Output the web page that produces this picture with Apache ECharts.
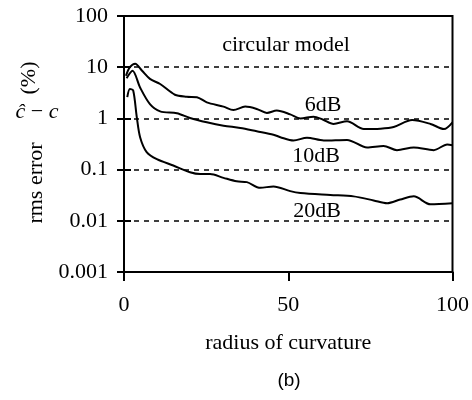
<!DOCTYPE html>
<html>
<head>
<meta charset="utf-8">
<script src="https://cdn.jsdelivr.net/npm/echarts@6/dist/echarts.min.js"></script>
<style>
  html, body { margin: 0; padding: 0; background: #fff; }
  #viewA { width: 472px; height: 400px; }
</style>
</head>
<body>
<div id="viewA"></div>
<script>
// values
const yLabels = ["0.001", "0.01", "0.1", "1", "10", "100"];
const xTicks = [0, 50, 100];

const r6 = [0.6, 1.8, 3.4, 5.5, 7.9, 11, 15.5, 19.1, 22.2, 25.2, 30.3, 33.3, 36.9, 40.4, 43.5, 46.5, 50.6, 53.7, 57.7, 60.5, 63.8, 67.9, 73, 78, 82.1, 87.7, 93.3, 97.4, 100];
const e6 = [6.8, 10, 11.7, 8.5, 5.9, 4.7, 2.9, 2.65, 2.6, 2.06, 1.7, 1.46, 1.7, 1.53, 1.28, 1.42, 1.2, 1.0, 1.08, 0.95, 0.78, 0.88, 0.62, 0.63, 0.68, 0.93, 0.78, 0.62, 0.84];

const r10 = [0.8, 2.6, 4.9, 7.9, 11, 16.1, 20.1, 25.2, 30.3, 35.4, 40.4, 45.5, 47.6, 51.6, 55.7, 60.8, 67.9, 74, 79, 83.1, 88.2, 94.3, 98.4, 100];
const e10 = [6.1, 8.5, 4.0, 1.9, 1.37, 1.26, 1.02, 0.84, 0.72, 0.65, 0.56, 0.48, 0.43, 0.37, 0.42, 0.37, 0.38, 0.27, 0.29, 0.24, 0.27, 0.24, 0.31, 0.30];

const r20 = [1.0, 1.8, 2.8, 3.9, 4.9, 6.9, 10, 15, 20.1, 23.2, 26.2, 30.3, 34.3, 37.4, 41.5, 45.5, 50.6, 53.7, 62.8, 69.9, 76, 80.1, 84.1, 88.2, 93.3, 100];
const e20 = [2.6, 3.75, 3.5, 1.05, 0.43, 0.22, 0.16, 0.12, 0.089, 0.082, 0.082, 0.069, 0.059, 0.057, 0.044, 0.047, 0.038, 0.035, 0.032, 0.030, 0.025, 0.022, 0.026, 0.030, 0.021, 0.022];

const serif = "'Liberation Serif', 'Times New Roman', serif";

function pairs(xs, ys) {
  return xs.map((x, i) => [x, ys[i]]);
}

function curve(name, xs, ys) {
  return {
    name: name,
    type: "line",
    data: pairs(xs, ys),
    showSymbol: false,
    smooth: 0.3,
    lineStyle: { color: "#000", width: 2 },
    z: 3
  };
}

function label(text, x, y, extra) {
  return Object.assign({
    type: "text",
    x: x,
    y: y,
    style: {
      text: text,
      font: "22px " + serif,
      fill: "#000",
      align: "center",
      verticalAlign: "middle"
    }
  }, extra || {});
}

let chart = echarts.init(document.getElementById("viewA"), null, { renderer: "canvas" });

let option = {
  animation: false,
  backgroundColor: "#fff",
  grid: {
    left: 124, right: 19, top: 16, bottom: 128,
    show: true, borderColor: "#000", borderWidth: 2
  },
  xAxis: {
    type: "value",
    min: 0, max: 100, interval: 50,
    name: "radius of curvature",
    nameLocation: "middle",
    nameGap: 60,
    nameTextStyle: { fontFamily: serif, fontSize: 22, color: "#000" },
    axisLine: { onZero: false, lineStyle: { color: "#000", width: 2 } },
    axisTick: { length: 9, lineStyle: { color: "#000", width: 2 } },
    axisLabel: {
      margin: 22, fontFamily: serif, fontSize: 22, color: "#000",
      formatter: v => (xTicks.indexOf(v) >= 0 ? String(v) : "")
    },
    splitLine: { show: false }
  },
  yAxis: [
    {
      type: "log",
      logBase: 10,
      min: 0.001, max: 100,
      position: "left",
      axisLine: { lineStyle: { color: "#000", width: 2 } },
      axisTick: { length: 7, lineStyle: { color: "#000", width: 2 } },
      axisLabel: {
        margin: 16, fontFamily: serif, fontSize: 22, color: "#000",
        formatter: v => {
          let k = Math.round(Math.log10(v)) + 3;
          return yLabels[k] || "";
        }
      },
      splitLine: { show: true, lineStyle: { color: "#000", width: 1.5, type: [5, 5] } },
      minorTick: { show: false }
    },
    {
      // inner half of the crossing ticks
      type: "log",
      logBase: 10,
      min: 0.001, max: 100,
      position: "left",
      offset: 0,
      axisLine: { show: false },
      axisTick: { inside: true, length: 7, lineStyle: { color: "#000", width: 2 } },
      axisLabel: { show: false },
      splitLine: { show: false }
    }
  ],
  series: [
    curve("6dB", r6, e6),
    curve("10dB", r10, e10),
    curve("20dB", r20, e20)
  ],
  graphic: [
    label("circular model", 286, 45),
    label("6dB", 323, 105),
    label("10dB", 316, 156),
    label("20dB", 317, 211),
    label("(%)", 29, 78, { rotation: Math.PI / 2 }),
    {
      type: "text", x: 37, y: 112,
      style: {
        text: "{i|ĉ} − {i|c}",
        font: "22px " + serif, fill: "#000",
        align: "center", verticalAlign: "middle",
        rich: { i: { fontFamily: serif, fontSize: 22, fontStyle: "italic", fill: "#000" } }
      }
    },
    label("rms error", 36, 183, { rotation: Math.PI / 2 }),
    {
      type: "text", x: 289, y: 381,
      style: {
        text: "(b)",
        font: "19px 'Liberation Sans', Arial, sans-serif",
        fill: "#000", align: "center", verticalAlign: "middle"
      }
    }
  ]
};

chart.setOption(option);
</script>
</body>
</html>
